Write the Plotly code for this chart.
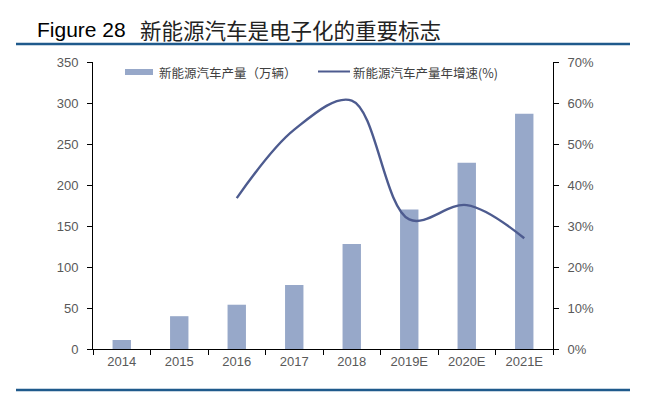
import plotly.graph_objects as go

categories = ["2014", "2015", "2016", "2017", "2018", "2019E", "2020E", "2021E"]
production = [11, 40, 54, 78, 128, 170, 227, 287]          # 万辆
growth_cats = ["2016", "2017", "2018", "2019E", "2020E", "2021E"]
growth = [36.8, 53.5, 60.6, 31.6, 35.1, 27.0]             # %

bar_name = "新能源汽车产量（万辆）"
line_name = "新能源汽车产量年增速(%)"
title_en = "Figure 28"
title_cn = "新能源汽车是电子化的重要标志"

BAR_C = "#97a8c9"
LINE_C = "#4d5b8f"
RULE_C = "#1f5a8c"
TICK_C = "#595959"
CJK = "Noto Sans CJK SC"
LAT = "Liberation Sans, Arial"

fig = go.Figure()
fig.add_trace(go.Bar(x=categories, y=production, name=bar_name,
                     marker=dict(color=BAR_C, line=dict(width=0)),
                     width=0.32, yaxis="y"))
fig.add_trace(go.Scatter(x=growth_cats, y=growth, name=line_name, mode="lines",
                         line=dict(color=LINE_C, width=2.4, shape="spline", smoothing=1.0),
                         yaxis="y2"))

# page has an 8px body margin: figure drawn 8px in from top-left of window
OFF = 8
W, H = 667 - OFF, 397 - OFF
L, R, T, B = 93, 553, 62, 349   # plot area in window pixels
pw, ph = R - L, B - T

def px(x):
    return (x - L) / pw

def py(y):
    return (B - y) / ph

shapes = [
    dict(type="line", xref="paper", yref="paper", x0=px(16), x1=px(630), y0=py(44), y1=py(44),
         line=dict(color=RULE_C, width=2.5)),
    dict(type="line", xref="paper", yref="paper", x0=px(16), x1=px(630), y0=py(390), y1=py(390),
         line=dict(color=RULE_C, width=2.5)),
    # legend swatches
    dict(type="rect", xref="paper", yref="paper", x0=px(125), x1=px(153), y0=py(75), y1=py(69),
         fillcolor=BAR_C, line=dict(width=0)),
    dict(type="line", xref="paper", yref="paper", x0=px(318), x1=px(350), y0=py(71.5), y1=py(71.5),
         line=dict(color=LINE_C, width=2)),
]

annotations = [
    dict(text=title_en, xref="paper", yref="paper", x=px(35), y=py(29), xanchor="left", yanchor="middle",
         showarrow=False, font=dict(family=LAT, size=21, color="#000000")),
    dict(text=title_cn, xref="paper", yref="paper", x=px(138), y=py(29), xanchor="left", yanchor="middle",
         showarrow=False, font=dict(family=CJK, size=21.5, color="#222222")),
    dict(text=bar_name, xref="paper", yref="paper", x=px(157), y=py(72), xanchor="left", yanchor="middle",
         showarrow=False, font=dict(family=CJK, size=12.5, color="#404040")),
    dict(text=line_name, xref="paper", yref="paper", x=px(351), y=py(72), xanchor="left", yanchor="middle",
         showarrow=False, font=dict(family=CJK, size=12.5, color="#404040")),
]

fig.update_layout(
    width=W, height=H,
    margin=dict(l=L - OFF, r=W - (R - OFF), t=T - OFF, b=H - (B - OFF), pad=0),
    paper_bgcolor="white", plot_bgcolor="white",
    showlegend=False,
    shapes=shapes, annotations=annotations,
    xaxis=dict(type="category", categoryorder="array", categoryarray=categories,
               showline=True, linecolor="#000000", linewidth=1,
               ticks="outside", tickson="boundaries", ticklen=5, tickcolor="#000000",
               tickfont=dict(family=LAT, size=13, color=TICK_C),
               showgrid=False, zeroline=False, range=[-0.5, 7.5]),
    yaxis=dict(range=[0, 350], tick0=0, dtick=50, showline=True, linecolor="#000000", linewidth=1,
               ticks="outside", ticklen=5, tickcolor="#000000",
               tickfont=dict(family=LAT, size=13, color=TICK_C),
               showgrid=False, zeroline=False, ticklabelstandoff=6),
    yaxis2=dict(range=[0, 70], tick0=0, dtick=10, ticksuffix="%", overlaying="y", side="right",
                showline=True, linecolor="#000000", linewidth=1,
                ticks="outside", ticklen=5, tickcolor="#000000",
                tickfont=dict(family=LAT, size=13, color=TICK_C),
                showgrid=False, zeroline=False, ticklabelstandoff=6),
)

fig.write_html("out.html")
